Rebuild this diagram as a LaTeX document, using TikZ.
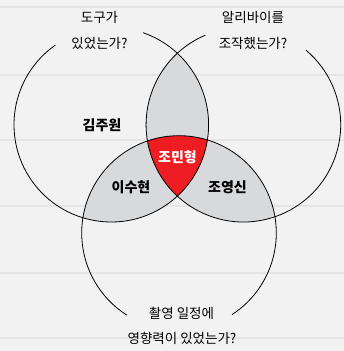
\documentclass[tikz,border=0pt]{standalone}
\usepackage{fontspec}
\setmainfont{Noto Sans CJK KR}
\definecolor{paper}{HTML}{F2F2F2}
\definecolor{rule}{HTML}{E5E5E5}
\definecolor{lens}{HTML}{D8D9DB}
\definecolor{core}{HTML}{EE1D23}

\begin{document}
\begin{tikzpicture}[x=1pt,y=1pt,
    ring/.style={draw=black,line width=0.8pt},
    question/.style={font=\fontsize{13.5}{15}\selectfont,align=center},
    suspect/.style={font=\fontsize{14}{16}\selectfont\bfseries}]
            \fill[paper] (0,0) rectangle (344,351);
            \useasboundingbox (0,0) rectangle (344,351);
            \foreach \y in {344,276,211,145,78,13}
                \draw[rule,line width=1.5pt] (0,\y) -- (344,\y);
            \coordinate (L) at (111.3,226.3);
            \coordinate (R) at (243.4,226.3);
            \coordinate (B) at (179,118);
            \def\rad{97.3}
            % overlaps
            \begin{scope}
                \clip (L) circle (\rad);
                \fill[lens] (R) circle (\rad);
                \fill[lens] (B) circle (\rad);
            \end{scope}
            \begin{scope}
                \clip (R) circle (\rad);
                \fill[lens] (B) circle (\rad);
            \end{scope}
            \begin{scope}
                \clip (L) circle (\rad);
                \clip (R) circle (\rad);
                \fill[core] (B) circle (\rad);
            \end{scope}
            % circles with gaps for the questions
            \draw[ring] ([shift={(125:\rad)}]L) arc (125:431:\rad);
            \draw[ring] ([shift={(113:\rad)}]R) arc (113:410:\rad);
            \draw[ring] ([shift={(303:\rad)}]B) arc (303:597.5:\rad);
            \begin{scope}[every node/.style={question}]
                \node (q1a) at (99.5,334) {도구가};
                \node (q1b) at (99.5,308) {있었는가?};
                \node (q2a) at (253,334) {알리바이를};
                \node (q2b) at (253,308) {조작했는가?};
                \node (q3a) at (181.5,38) {촬영 일정에};
                \node (q3b) at (182,13) {영향력이 있었는가?};
            \end{scope}
            \begin{scope}[every node/.style={suspect}]
                \node (kim) at (102,226) {김주원};
                \node[white] (min) at (177.5,194) {조민형};
                \node (lee) at (131,164) {이수현};
                \node (jo) at (227.5,164) {조영신};
            \end{scope}
        \end{tikzpicture}
\end{document}
